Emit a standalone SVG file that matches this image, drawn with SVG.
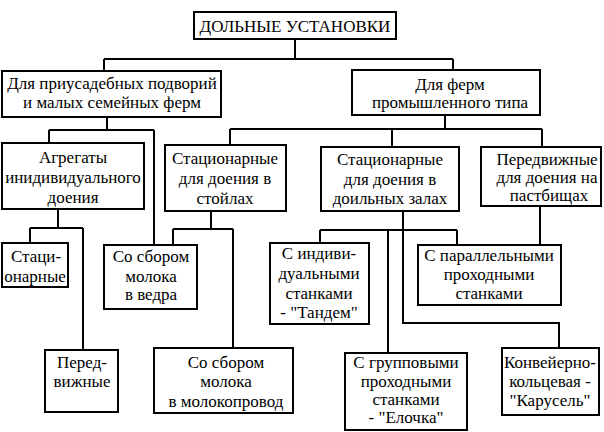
<svg xmlns="http://www.w3.org/2000/svg" width="604" height="432" viewBox="0 0 604 432">
<style>
.b{fill:#fff;stroke:#000;stroke-width:2}
.t{font-family:'Liberation Serif','DejaVu Serif',serif;font-size:17px;fill:#000;text-anchor:middle}
.c{fill:none;stroke:#000;stroke-width:2}
</style>
<rect width="604" height="432" fill="#fff"/>
<g id="connectors" class="c">
<path d="M295,39V59M104,59H453M104,59V71M453,59V70"/>
<path d="M107,117V130M49,130H154M49,130V143M154,130V245"/>
<path d="M445,115V129M230,129H542M230,129V145M392,129V147M542,129V147"/>
<path d="M58,209V228M30,228H83M30,228V243M83,228V350"/>
<path d="M211,211V229M173,229H233M173,229V245M233,229V348"/>
<path d="M403,211V323H559V348M320,230H457M320,230V243M388,230V353M457,230V245"/>
<path d="M540,206V245"/>
</g>
<g id="n-title"><rect class="b" x="194" y="12" width="202" height="27"/><text class="t" x="295" y="32">ДОЛЬНЫЕ УСТАНОВКИ</text></g>
<g id="n-small"><rect class="b" x="2" y="71" width="219" height="46"/><text class="t" x="112" y="89">Для приусадебных подворий</text><text class="t" x="112" y="108">и малых семейных ферм</text></g>
<g id="n-industrial"><rect class="b" x="352" y="70" width="188" height="45"/><text class="t" x="450" y="90">Для ферм</text><text class="t" x="450" y="108">промышленного типа</text></g>
<g id="n-agr"><rect class="b" x="2" y="143" width="142" height="66"/><text class="t" x="73" y="163">Агрегаты</text><text class="t" x="73" y="183">инидивидуального</text><text class="t" x="73" y="203">доения</text></g>
<g id="n-stall"><rect class="b" x="165" y="145" width="121" height="66"/><text class="t" x="225" y="164">Стационарные</text><text class="t" x="225" y="184">для доения в</text><text class="t" x="225" y="204">стойлах</text></g>
<g id="n-hall"><rect class="b" x="321" y="147" width="138" height="64"/><text class="t" x="390" y="165">Стационарные</text><text class="t" x="390" y="185">для доения в</text><text class="t" x="390" y="204">доильных залах</text></g>
<g id="n-pasture"><rect class="b" x="481" y="147" width="120" height="59"/><text class="t" x="547" y="165">Передвижные</text><text class="t" x="547" y="183">для доения на</text><text class="t" x="549" y="201">пастбищах</text></g>
<g id="n-stat"><rect class="b" x="2" y="243" width="66" height="44"/><text class="t" x="36" y="262">Стаци-</text><text class="t" x="35" y="282">онарные</text></g>
<g id="n-mob"><rect class="b" x="45" y="350" width="73" height="62"/><text class="t" x="82" y="368">Перед-</text><text class="t" x="82" y="387">вижные</text></g>
<g id="n-bucket"><rect class="b" x="104" y="245" width="93" height="64"/><text class="t" x="151" y="262">Со сбором</text><text class="t" x="151" y="282">молока</text><text class="t" x="151" y="300">в ведра</text></g>
<g id="n-pipe"><rect class="b" x="154" y="348" width="139" height="65"/><text class="t" x="226" y="368">Со сбором</text><text class="t" x="226" y="387">молока</text><text class="t" x="226" y="407">в молокопровод</text></g>
<g id="n-tandem"><rect class="b" x="270" y="243" width="99" height="81"/><text class="t" x="319" y="259">С индиви-</text><text class="t" x="319" y="279">дуальными</text><text class="t" x="319" y="299">станками</text><text class="t" x="319" y="318">- "Тандем"</text></g>
<g id="n-parallel"><rect class="b" x="418" y="245" width="143" height="60"/><text class="t" x="489" y="261">С параллельными</text><text class="t" x="489" y="280">проходными</text><text class="t" x="489" y="299">станками</text></g>
<g id="n-herring"><rect class="b" x="345" y="353" width="122" height="77"/><text class="t" x="406" y="368">С групповыми</text><text class="t" x="406" y="387">проходными</text><text class="t" x="406" y="405">станками</text><text class="t" x="406" y="423">- "Елочка"</text></g>
<g id="n-carousel"><rect class="b" x="502" y="348" width="97" height="67"/><text class="t" x="550" y="368">Конвейерно-</text><text class="t" x="550" y="387">кольцевая -</text><text class="t" x="550" y="406">"Карусель"</text></g>
</svg>
